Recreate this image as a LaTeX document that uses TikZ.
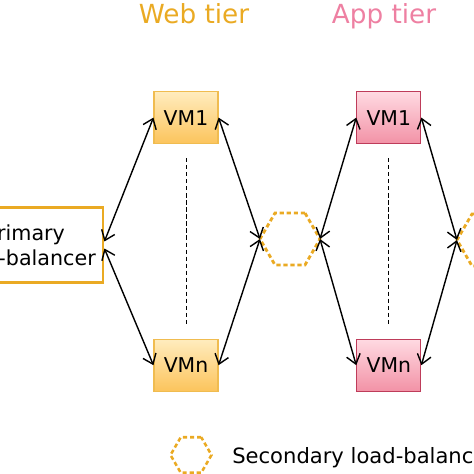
\documentclass[tikz,border=0pt]{standalone}
\usepackage{fontspec}
\setmainfont{DejaVu Sans}
\usepackage{tikz}
\usetikzlibrary{arrows.meta, shapes.geometric}

\definecolor{webgold}{RGB}{234,170,35}
\definecolor{webtop}{RGB}{255,236,190}
\definecolor{webbot}{RGB}{252,196,92}
\definecolor{webedge}{RGB}{240,188,80}
\definecolor{apppink}{RGB}{238,128,162}
\definecolor{apptop}{RGB}{255,218,226}
\definecolor{appbot}{RGB}{242,146,166}
\definecolor{appedge}{RGB}{190,60,90}

\begin{document}
\begin{tikzpicture}[x=1cm, y=1cm,
    vm/.style={draw, line width=0.8pt, minimum width=1.6cm, minimum height=1.3cm,
        inner sep=0pt, font=\fontsize{14.5}{17}\selectfont},
    webvm/.style={vm, draw=webedge, top color=webtop, bottom color=webbot},
    appvm/.style={vm, draw=appedge, top color=apptop, bottom color=appbot},
    slb/.style={regular polygon, regular polygon sides=6, draw=webgold, line width=2pt,
        dash pattern=on 3pt off 2pt, inner sep=0pt, outer sep=0pt, minimum size=#1},
    slb/.default=1.5cm,
    link/.style={{Straight Barb[length=6.5pt,width=10pt]}-{Straight Barb[length=6.5pt,width=10pt]}, line width=1pt},
    vmdots/.style={line width=0.7pt, dash pattern=on 3pt off 2pt, shorten <=0.35cm, shorten >=0.35cm},
    tier/.style={anchor=base, font=\fontsize{18.7}{22}\selectfont}]
    \useasboundingbox (0,0) rectangle (11.85,11.85);
    \clip (0,0) rectangle (11.85,11.85);

    \node[tier, text=webgold] (webtitle) at (4.85,11.25) {Web tier};
    \node[tier, text=apppink] (apptitle) at (9.6,11.25) {App tier};

    \node[draw=webgold, line width=2pt, minimum width=3.9cm, minimum height=1.875cm,
        align=center, font=\fontsize{14.7}{18}\selectfont] (plb) at (0.625,5.725) {Primary\\load-balancer};

    \node[webvm] (wvm1) at (4.65,8.91) {VM1};
    \node[webvm] (wvmn) at (4.65,2.72) {VMn};
    \node[appvm] (avm1) at (9.72,8.91) {VM1};
    \node[appvm] (avmn) at (9.72,2.72) {VMn};

    \node[slb] (hex1) at (7.25,5.875) {};
    \node[slb] (hex2) at (12.175,5.85) {};

    \foreach \t in {w,a}
        \draw[vmdots] (\t vm1) -- (\t vmn);

    \draw[link] ([yshift=2.5pt]plb.east) -- (wvm1.west);
    \draw[link] ([yshift=-2.5pt]plb.east) -- (wvmn.west);
    \foreach \a/\b in {wvm1/hex1, wvmn/hex1, avm1/hex2, avmn/hex2}
        \draw[link] (\a.east) -- (\b.west);
    \foreach \b in {avm1, avmn}
        \draw[link] (hex1.east) -- (\b.west);

    \node[slb=1.025cm, line width=1.8pt] (leghex) at (4.775,0.475) {};
    \node[anchor=base west, inner sep=0pt, font=\fontsize{15}{18}\selectfont] (legtext) at (5.8,0.25) {Secondary load-balancer};
\end{tikzpicture}
\end{document}
